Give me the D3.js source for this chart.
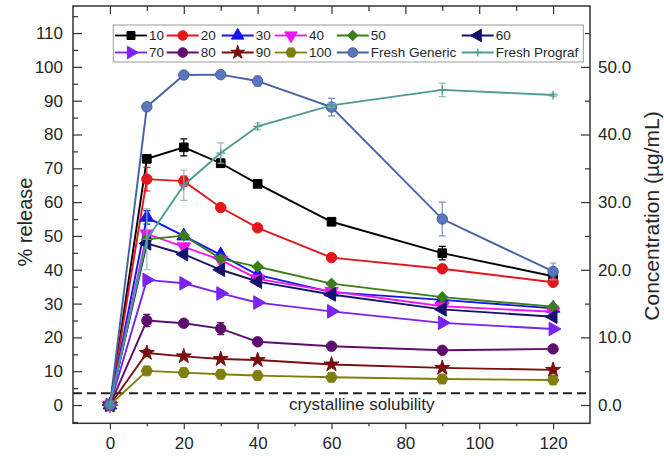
<!DOCTYPE html>
<html>
<head>
<meta charset="utf-8">
<script src="https://cdn.jsdelivr.net/npm/d3@7"></script>
<style>
  body { margin: 0; background: #fff; }
  svg { display: block; }
  text { font-family: "Liberation Sans", Arial, sans-serif; fill: #262626; }
</style>
</head>
<body>
<div id="chart"></div>
<script>
// sampling times (min)
const times = [0, 10, 20, 30, 40, 60, 90, 120];

// % release per drug loading
const s10  = [0, 72.8, 76.2, 71.5, 65.4, 54.2, 44.9, 38.1];
const s20  = [0, 66.8, 66.2, 58.4, 52.4, 43.6, 40.3, 36.3];
const s30  = [0, 55.5, 50.0, 44.4, 38.5, 33.4, 31.1, 28.6];
const s40  = [0, 50.6, 46.8, 42.9, 37.3, 33.6, 29.2, 27.6];
const s50  = [0, 49.0, 50.1, 43.3, 40.9, 35.9, 31.9, 29.1];
const s60  = [0, 47.8, 44.6, 40.0, 36.5, 32.7, 28.3, 26.1];
const s70  = [0, 37.0, 36.0, 33.0, 30.3, 27.7, 24.3, 22.5];
const s80  = [0, 25.0, 24.2, 22.6, 18.7, 17.4, 16.2, 16.6];
const s90  = [0, 15.4, 14.4, 13.6, 13.3, 12.0, 11.0, 10.4];
const s100 = [0, 10.1,  9.6,  9.1,  8.7,  8.2,  7.7,  7.4];
const generic = [0, 88.2, 97.6, 97.7, 95.8, 88.1, 55.0, 39.5];
const prograf = [0, 49.0, 65.0, 74.5, 82.4, 88.6, 93.2, 91.7];

// error bars (same units)
const e10  = [0, 1.0, 2.5, 1.2, 0.8, 0, 2.0, 0.5];
const e20  = [0, 3.5, 1.5, 0.5, 0.5, 0, 0.5, 0.5];
const e30  = [0, 2.0, 0.5, 0.5, 0.5, 0, 0.5, 0.5];
const e80  = [0, 1.8, 0.8, 1.8, 0.5, 0, 0.5, 0.5];
const e90  = [0, 1.0, 0.6, 0.5, 0.5, 0, 0.5, 0.5];
const eGen = [0, 0.5, 0.8, 0.8, 1.5, 2.6, 5.0, 2.5];
const ePro = [0, 9.0, 4.5, 3.0, 1.0, 0.5, 2.0, 0.5];
const eNone = [0, 0, 0, 0, 0, 0, 0, 0];

const legendCols = [115, 166.7, 221.7, 275, 336.7, 461.7];
const solubility = 3.5; // % release equivalent

const leftTicks = d3.range(0, 111, 10);
const rightTicks = d3.range(0, 51, 10);
const xTicks = d3.range(0, 121, 20);

const symHex = {
  draw(ctx, size) {
    const r = Math.sqrt(size / (1.5 * Math.sqrt(3)));
    for (let i = 0; i < 6; i++) {
      const a = Math.PI / 3 * i;
      const px = r * Math.cos(a), py = r * Math.sin(a);
      if (i === 0) ctx.moveTo(px, py); else ctx.lineTo(px, py);
    }
    ctx.closePath();
  }
};
const symPlus = {
  draw(ctx, size) {
    const r = Math.sqrt(size) / 2;
    ctx.moveTo(-r, 0); ctx.lineTo(r, 0);
    ctx.moveTo(0, -r); ctx.lineTo(0, r);
  }
};

const series = [
  { name: '10', values: s10, err: e10, color: '#000000', errColor: '#000000', sym: d3.symbolSquare, size: 75, rot: 0 },
  { name: '20', values: s20, err: e20, color: '#e3161b', errColor: '#e3161b', sym: d3.symbolCircle, size: 85, rot: 0 },
  { name: '30', values: s30, err: e30, color: '#1515f0', errColor: '#1515f0', sym: d3.symbolTriangle, size: 80, rot: 0 },
  { name: '40', values: s40, err: eNone, color: '#f016f0', errColor: '#f016f0', sym: d3.symbolTriangle, size: 80, rot: 180 },
  { name: '50', values: s50, err: eNone, color: '#3b7f1d', errColor: '#3b7f1d', sym: d3.symbolSquare, size: 60, rot: 45 },
  { name: '60', values: s60, err: eNone, color: '#13136e', errColor: '#13136e', sym: d3.symbolTriangle, size: 80, rot: -90 },
  { name: '70', values: s70, err: eNone, color: '#7a22f2', errColor: '#7a22f2', sym: d3.symbolTriangle, size: 80, rot: 90 },
  { name: '80', values: s80, err: e80, color: '#5f0d6e', errColor: '#5f0d6e', sym: d3.symbolCircle, size: 85, rot: 0 },
  { name: '90', values: s90, err: e90, color: '#7a0f10', errColor: '#7a0f10', sym: d3.symbolStar, size: 70, rot: 0 },
  { name: '100', values: s100, err: eNone, color: '#7f7f10', errColor: '#7f7f10', sym: symHex, size: 85, rot: 0 },
  { name: 'Fresh Generic', values: generic, err: eGen, color: '#4560a8', errColor: '#7d90c8', sym: d3.symbolCircle, size: 85, rot: 0, fill: '#5a76bc' },
  { name: 'Fresh Prograf', values: prograf, err: ePro, color: '#4e9b95', errColor: '#8fbfae', sym: symPlus, size: 80, rot: 0, open: true }
];

const W = 664, H = 456;
const svg = d3.select('#chart').append('svg').attr('width', W).attr('height', H);

const x = d3.scaleLinear().domain([-10, 130]).range([73, 590]);
const yL = d3.scaleLinear().domain([-5.4, 118]).range([423.3, 6]);
const yR = d3.scaleLinear().domain([-2.7, 59]).range([423.3, 6]);

// axes
const axisStyle = g => {
  g.select('.domain').remove();
  g.selectAll('line').attr('stroke', '#333').attr('stroke-width', 1.2);
  g.selectAll('text').style('font-size', '17px').attr('fill', '#262626');
};

svg.append('g').attr('transform', 'translate(73,0)')
  .call(d3.axisLeft(yL).tickValues(leftTicks).tickSize(-9).tickPadding(10).tickFormat(d3.format('d')))
  .call(axisStyle);
svg.append('g').attr('transform', 'translate(73,0)')
  .call(d3.axisLeft(yL).tickValues(d3.range(-5, 118, 10)).tickSize(-5).tickFormat(''))
  .call(axisStyle);

svg.append('g').attr('transform', 'translate(590,0)')
  .call(d3.axisRight(yR).tickValues(rightTicks).tickSize(-9).tickPadding(8).tickFormat(d3.format('.1f')))
  .call(axisStyle);
svg.append('g').attr('transform', 'translate(590,0)')
  .call(d3.axisRight(yR).tickValues(d3.range(5, 59, 10)).tickSize(-5).tickFormat(''))
  .call(axisStyle);

svg.append('g').attr('transform', 'translate(0,423.3)')
  .call(d3.axisBottom(x).tickValues(xTicks).tickSize(6).tickPadding(8).tickFormat(d3.format('d')))
  .call(axisStyle);
svg.append('g').attr('transform', 'translate(0,423.3)')
  .call(d3.axisBottom(x).tickValues(d3.range(10, 121, 20)).tickSize(3).tickFormat(''))
  .call(axisStyle);

svg.append('g').attr('transform', 'translate(0,6)')
  .call(d3.axisTop(x).tickValues(xTicks).tickSize(-8).tickFormat(''))
  .call(axisStyle);
svg.append('g').attr('transform', 'translate(0,6)')
  .call(d3.axisTop(x).tickValues(d3.range(10, 121, 20)).tickSize(-5).tickFormat(''))
  .call(axisStyle);

// frame
svg.append('rect')
  .attr('x', x(-10)).attr('y', yL(118))
  .attr('width', x(130) - x(-10)).attr('height', yL(-5.4) - yL(118))
  .attr('fill', 'none').attr('stroke', '#333').attr('stroke-width', 1.5);

// crystalline solubility
svg.append('line')
  .attr('x1', x(-10)).attr('x2', x(130))
  .attr('y1', yL(solubility)).attr('y2', yL(solubility))
  .attr('stroke', '#222').attr('stroke-width', 2).attr('stroke-dasharray', '9,5');
svg.append('text')
  .attr('x', 361.7).attr('y', 410)
  .attr('text-anchor', 'middle').style('font-size', '17px')
  .text('crystalline solubility');

// series
const line = d3.line().x((d, i) => x(times[i])).y(d => yL(d));
const plot = svg.append('g');

series.forEach(s => {
  const g = plot.append('g');
  g.append('path')
    .attr('d', line(s.values))
    .attr('fill', 'none').attr('stroke', s.color).attr('stroke-width', 1.9);

  s.values.forEach((v, i) => {
    const e = s.err[i];
    if (!e) return;
    const cx = x(times[i]);
    g.append('path')
      .attr('d', `M${cx},${yL(v - e)}V${yL(v + e)}M${cx - 3.5},${yL(v - e)}H${cx + 3.5}M${cx - 3.5},${yL(v + e)}H${cx + 3.5}`)
      .attr('fill', 'none').attr('stroke', s.errColor).attr('stroke-width', 1.2);
  });

  const sym = d3.symbol().type(s.sym).size(s.size);
  g.selectAll('.m').data(s.values).join('path')
    .attr('transform', (d, i) => `translate(${x(times[i])},${yL(d)}) rotate(${s.rot})`)
    .attr('d', sym)
    .attr('fill', s.open ? 'none' : (s.fill || s.color))
    .attr('stroke', s.color)
    .attr('stroke-width', s.open ? 1.3 : 1);
});

// legend
const lg = svg.append('g');
lg.append('rect')
  .attr('x', 113.3).attr('y', 25).attr('width', 470).attr('height', 37)
  .attr('fill', '#fff').attr('stroke', '#9a9a9a').attr('stroke-width', 1);

series.forEach((s, k) => {
  const col = k % 6, row = Math.floor(k / 6);
  const lx = legendCols[col], ly = row === 0 ? 35.5 : 52.5;
  lg.append('line')
    .attr('x1', lx).attr('x2', lx + 32).attr('y1', ly).attr('y2', ly)
    .attr('stroke', s.color).attr('stroke-width', 1.8);
  lg.append('path')
    .attr('transform', `translate(${lx + 16},${ly}) rotate(${s.rot})`)
    .attr('d', d3.symbol().type(s.sym).size(s.size * 0.85))
    .attr('fill', s.open ? 'none' : (s.fill || s.color))
    .attr('stroke', s.color).attr('stroke-width', s.open ? 1.3 : 1);
  lg.append('text')
    .attr('x', lx + 34).attr('y', ly).attr('dy', '0.35em')
    .style('font-size', '13.5px')
    .text(s.name);
});

// axis titles
svg.append('text')
  .attr('transform', 'translate(32,222) rotate(-90)')
  .attr('text-anchor', 'middle').style('font-size', '20px')
  .text('% release');
svg.append('text')
  .attr('transform', 'translate(659,216) rotate(-90)')
  .attr('text-anchor', 'middle').style('font-size', '21px')
  .text('Concentration (µg/mL)');
</script>
</body>
</html>
